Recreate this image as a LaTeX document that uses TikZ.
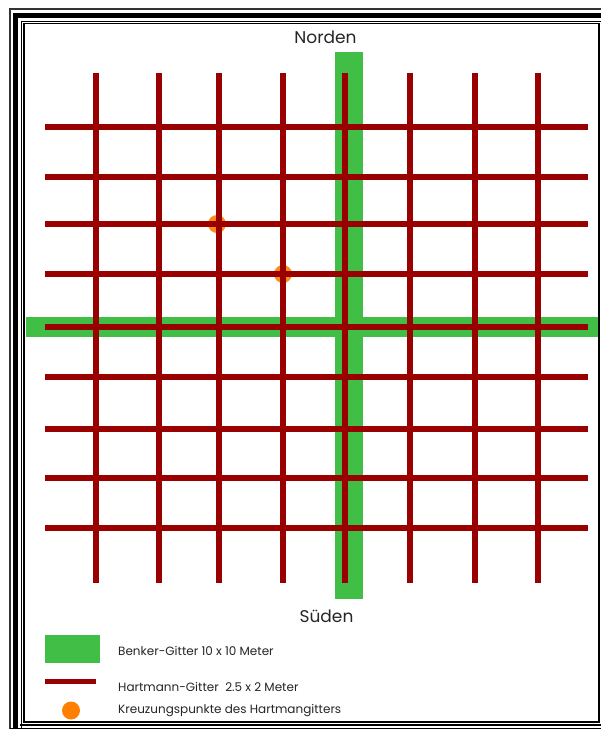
\documentclass[tikz,border=0pt]{standalone}
\usepackage{fontspec}
\setmainfont{Poppins}
\definecolor{hred}{RGB}{153,0,0}
\definecolor{bgreen}{RGB}{64,190,70}
\definecolor{korange}{RGB}{255,128,0}
\begin{document}
\begin{tikzpicture}[x=1pt,y=-1pt,
  hline/.style={draw=hred,line width=5.5pt},
  gband/.style={fill=bgreen},
  kdot/.style={circle,fill=korange,minimum size=18pt,inner sep=0pt},
  bigtxt/.style={font=\fontsize{17}{19}\selectfont,text=black!85,inner sep=0pt},
  legtxt/.style={font=\fontsize{12}{14}\selectfont,text=black!85,inner sep=0pt,anchor=west}]
\useasboundingbox (0,0) rectangle (601,729);
\clip (0,0) rectangle (601,729);
\fill[white] (0,0) rectangle (601,729);
% frame
\draw[black!80,line width=2pt] (10,9) rectangle (640,760);
\draw[black,line width=5pt] (15,15.5) rectangle (635,755);
\draw[black,line width=1.2pt] (21.5,21.5) rectangle (630,750);
\draw[black,line width=1.6pt] (24,23.5) rectangle (599,722);
\draw[black,line width=2.5pt] (20,725) -- (601,725);
\draw[black,line width=1pt] (10,728) -- (601,728);
% green bands
\fill[bgreen] (335,52) rectangle (363,599);
\fill[bgreen] (26,316.5) rectangle (597.5,337);
% Hartmann grid
\foreach \x in {96,159,219,283,345,410,475,538}
  \draw[hline] (\x,72.5) -- (\x,583);
\foreach \y in {127,177,224,274,327,377,429,478,528}
  \draw[hline] (45,\y) -- (588,\y);
% crossing points
\node[kdot,opacity=0.9] (k1) at (217,224) {};
\node[kdot,opacity=0.9] (k2) at (283,274) {};
\draw[hred,line width=5.5pt] (205,224) -- (229,224) (219,212) -- (219,236);
\draw[hred,line width=5.5pt] (271,274) -- (295,274) (283,262) -- (283,286);
% labels
\node[bigtxt] (nord) at (325.5,37) {Norden};
\node[bigtxt] (sued) at (326.5,616) {Süden};
% legend
\fill[bgreen] (45,635) rectangle (100,663);
\node[legtxt] (l1) at (118,651) {Benker-Gitter 10 x 10 Meter};
\draw[hline] (45,681.5) -- (96,681.5);
\node[legtxt] (l2) at (118,687) {Hartmann-Gitter\ \ 2.5 x 2 Meter};
\node[kdot] (ld) at (71,710.5) {};
\node[legtxt] (l3) at (118,711) {Kreuzungspunkte des Hartmangitters};
\end{tikzpicture}
\end{document}
